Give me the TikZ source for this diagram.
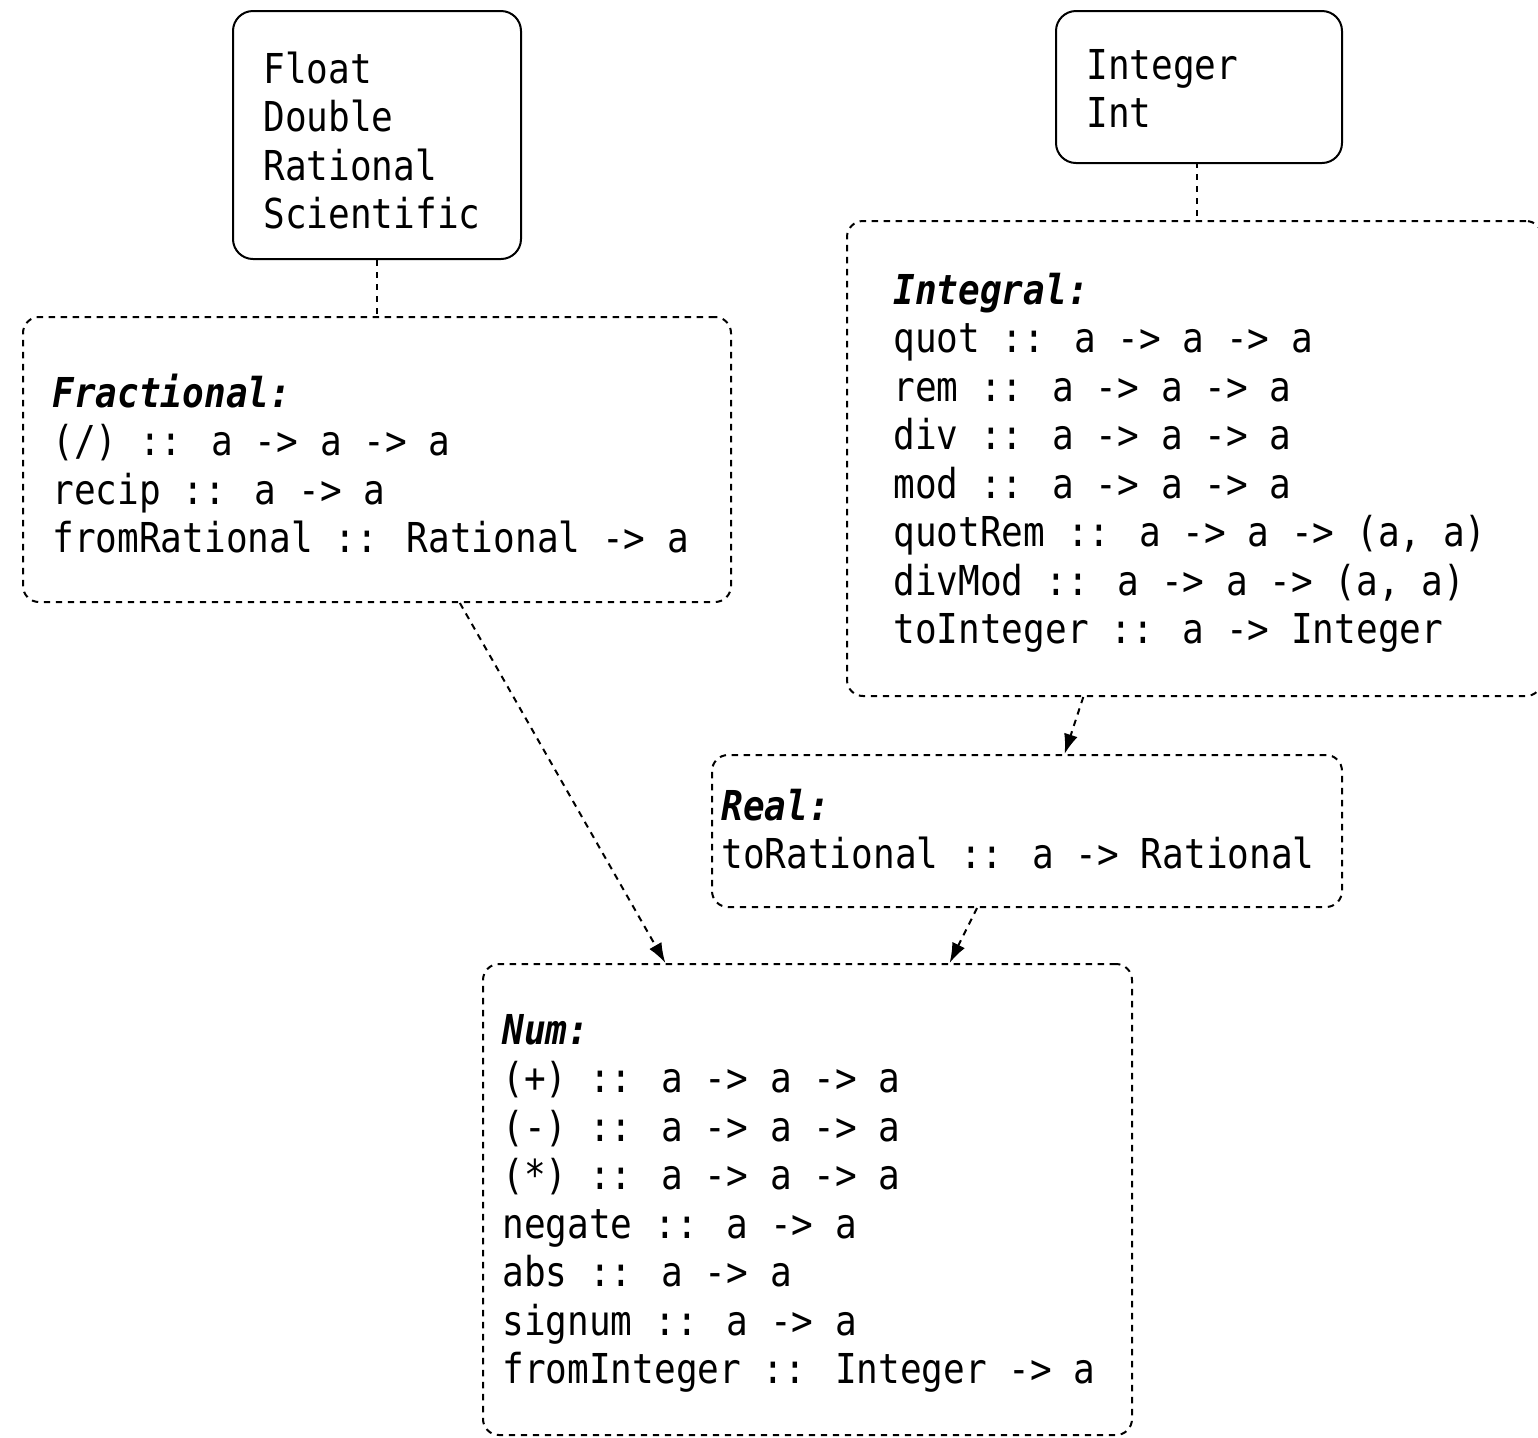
\documentclass[tikz,border=0pt]{standalone}
\usepackage{fontspec}
\newfontfamily\cmono[FakeStretch=0.875]{DejaVu Sans Mono}
\usetikzlibrary{arrows.meta}
\begin{document}
\begin{tikzpicture}[x=0.5pt,y=-0.5pt,
  sbox/.style={draw, line width=1pt, rounded corners=10pt, anchor=north west, inner sep=0pt},
  dbox/.style={draw, line width=1pt, dash pattern=on 3.2pt off 2.8pt, rounded corners=8pt, anchor=north west, inner sep=0pt},
  txt/.style={anchor=base west, inner sep=0pt, align=left, font=\cmono\fontsize{20.6pt}{24.25pt}\selectfont},
  link/.style={line width=1pt, dash pattern=on 3.2pt off 2.8pt},
  arr/.style={line width=1pt, dash pattern=on 3.2pt off 2.8pt, -{Latex[length=10pt,width=7pt]}}]
\useasboundingbox (0,0) rectangle (1538,1437);
% boxes
\node[sbox, minimum width=144pt, minimum height=124pt] (float) at (232,10) {};
\node[sbox, minimum width=143pt, minimum height=76pt] (integer) at (1055,10) {};
\node[dbox, minimum width=354pt, minimum height=142.5pt] (frac) at (22,316) {};
\node[dbox, minimum width=347.5pt, minimum height=237.5pt] (integral) at (846,220) {};
\node[dbox, minimum width=315pt, minimum height=76pt] (real) at (711,754) {};
\node[dbox, minimum width=324.5pt, minimum height=235.5pt] (num) at (482,963) {};
% texts (anchored at the baseline of the last line)
\node[txt] (tfloat) at (263,228.5) {Float\\Double\\Rational\\Scientific};
\node[txt] (tinteger) at (1086,127.5) {Integer\\Int};
\node[txt] (tfrac) at (52,552.5) {{\bfseries\itshape Fractional:}\\(/) :: a -> a -> a\\recip :: a -> a\\fromRational :: Rational -> a};
\node[txt] (tintegral) at (893,643.5) {{\bfseries\itshape Integral:}\\quot :: a -> a -> a\\rem :: a -> a -> a\\div :: a -> a -> a\\mod :: a -> a -> a\\quotRem :: a -> a -> (a, a)\\divMod :: a -> a -> (a, a)\\toInteger :: a -> Integer};
\node[txt] (treal) at (721,868.5) {{\bfseries\itshape Real:}\\toRational :: a -> Rational};
\node[txt] (tnum) at (502,1383.5) {{\bfseries\itshape Num:}\\(+) :: a -> a -> a\\(-) :: a -> a -> a\\(*) :: a -> a -> a\\negate :: a -> a\\abs :: a -> a\\signum :: a -> a\\fromInteger :: Integer -> a};
% connectors
\draw[link] (float.south) -- (float.south |- frac.north);
\draw[link] (1197,162) coordinate (intbot) -- (intbot |- integral.north);
\draw[arr] (integral.245.5) -- (real.64.6);
\draw[arr] (frac.300.5) -- (num.121);
\draw[arr] (real.237.7) -- (num.59);
\end{tikzpicture}
\end{document}
